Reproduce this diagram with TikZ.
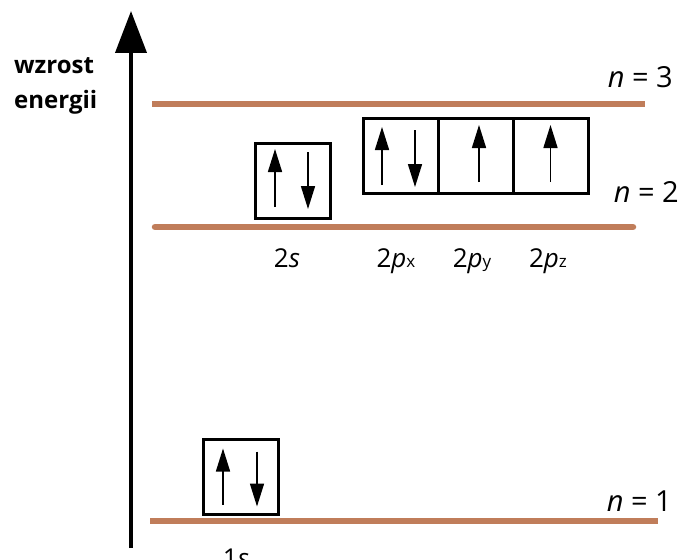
\documentclass[tikz,border=0pt]{standalone}
\usepackage{fontspec}
\setmainfont{Open Sans}
\usetikzlibrary{arrows.meta}
\definecolor{levelbrown}{HTML}{C07D5A}
\tikzset{
  level/.style={draw=levelbrown, line width=6.5pt},
  orb/.style={draw=black, line width=3pt, minimum width=75pt, minimum height=75pt, inner sep=0pt, outer sep=0pt},
  spin/.style={line width=1.6pt, -{Triangle[length=23pt,width=14pt]}},
  lab/.style={font=\fontsize{26}{30}\selectfont, inner sep=0pt, anchor=base},
  nlab/.style={font=\fontsize{29}{33}\selectfont, inner sep=0pt, anchor=base east},
  axis/.style={line width=4pt, -{Triangle[length=42pt,width=31pt]}}
}
\begin{document}
\begin{tikzpicture}[x=1pt,y=-1pt]
\useasboundingbox (0,0) rectangle (679,559);
% axis
\coordinate (axb) at (131,548);
\coordinate (axt) at (131,11);
\draw[axis] (axb) -- (axt);
\node[font=\bfseries\fontsize{24}{28}\selectfont, inner sep=0pt, anchor=base west] (w1) at (14,74) {wzrost};
\node[font=\bfseries\fontsize{24}{28}\selectfont, inner sep=0pt, anchor=base west] (w2) at (14,108) {energii};
% levels
\coordinate (l3a) at (152,104); \coordinate (l3b) at (645,104);
\coordinate (l2a) at (155,227); \coordinate (l2b) at (633,227);
\coordinate (l1a) at (150,521); \coordinate (l1b) at (658,521);
\draw[level] (l3a) -- (l3b);
\draw[level, line cap=round] (l2a) -- (l2b);
\draw[level] (l1a) -- (l1b);
\node[nlab] (n3) at (673,88) {\textit{n} = 3};
\node[nlab] (n2) at (679,202) {\textit{n} = 2};
\node[nlab] (n1) at (672,511) {\textit{n} = 1};
% boxes
\node[orb] (s2) at (293,180.5) {};
\node[orb] (px) at (401,155.5) {};
\node[orb] (py) at (476,155.5) {};
\node[orb] (pz) at (550.5,155.5) {};
\node[orb] (s1) at (241,477) {};
% spins 2s
\draw[spin] ([xshift=-18pt,yshift=11pt]s2.south) -- ([xshift=-18pt,yshift=-6pt]s2.north);
\draw[spin] ([xshift=15pt,yshift=-9pt]s2.north) -- ([xshift=15pt,yshift=9pt]s2.south);
% spins 2px
\draw[spin] ([xshift=-19pt,yshift=8pt]px.south) -- ([xshift=-19pt,yshift=-9pt]px.north);
\draw[spin] ([xshift=14pt,yshift=-12pt]px.north) -- ([xshift=14pt,yshift=6pt]px.south);
% spins 2py, 2pz
\draw[spin] ([xshift=3pt,yshift=11pt]py.south) -- ([xshift=3pt,yshift=-7pt]py.north);
\draw[spin] ([xshift=0pt,yshift=11pt]pz.south) -- ([xshift=0pt,yshift=-7pt]pz.north);
% spins 1s
\draw[spin] ([xshift=-18pt,yshift=10pt]s1.south) -- ([xshift=-18pt,yshift=-9pt]s1.north);
\draw[spin] ([xshift=16pt,yshift=-12pt]s1.north) -- ([xshift=16pt,yshift=8pt]s1.south);
% labels
\node[lab] (l2s) at (287,267) {2\textit{s}};
\node[lab] (l2px) at (396,267) {2\textit{p}{\fontsize{17}{19}\selectfont x}};
\node[lab] (l2py) at (472,267) {2\textit{p}{\fontsize{17}{19}\selectfont y}};
\node[lab] (l2pz) at (548,267) {2\textit{p}{\fontsize{17}{19}\selectfont z}};
\node[lab] (l1s) at (236,567) {1\textit{s}};
\end{tikzpicture}
\end{document}
